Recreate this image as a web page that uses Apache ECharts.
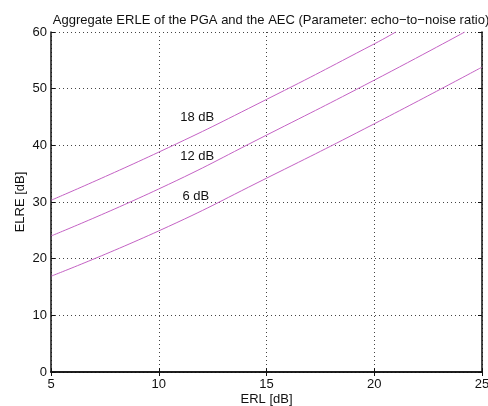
<!DOCTYPE html>
<html>
<head>
<meta charset="utf-8">
<script src="https://cdn.jsdelivr.net/npm/echarts@6/dist/echarts.min.js"></script>
<style>
  html, body { margin: 0; padding: 0; background: #fff; }
  #chart { width: 488px; height: 406px; }
</style>
</head>
<body>
<div id="chart"></div>
<script>
// ERL in dB, and the resulting aggregate ERLE per echo-to-noise ratio
const erl18 = [5, 10, 15, 20, 21.0];
const erle18 = [30.3, 38.8, 48.1, 57.9, 60];
const erl12 = [5, 10, 15, 20, 24.2];
const erle12 = [24.0, 32.3, 41.8, 51.5, 60];
const erl6 = [5, 10, 15, 20, 25];
const erle6 = [16.9, 24.9, 34.2, 43.8, 53.8];

const curveNames = ['18 dB', '12 dB', '6 dB'];
// where each curve's name is written (left end of the text), in axis units
const nameAnchors = [[11.0, 44.9], [11.0, 38.0], [11.1, 30.9]];

const xTicks = [5, 10, 15, 20, 25];
const yTicks = [0, 10, 20, 30, 40, 50, 60];

const FONT = 'Liberation Sans, Arial, Helvetica, sans-serif';
const FS = 13;
const LINE_COLOR = '#c462c4';

function pairs(xs, ys) { return xs.map((x, i) => [x, ys[i]]); }

const chart = echarts.init(document.getElementById('chart'), null, { renderer: 'canvas' });

const boxAxis = {
  axisLine: { show: true, lineStyle: { color: '#111', width: 1.5 } },
  axisTick: { show: true, inside: true, length: 4, lineStyle: { color: '#111', width: 1 } },
  axisLabel: { show: false },
  splitLine: { show: false }
};

const curves = [pairs(erl18, erle18), pairs(erl12, erle12), pairs(erl6, erle6)];

const lineSeries = curves.map((data, i) => ({
  type: 'line',
  name: curveNames[i],
  data: data,
  smooth: 0.5,
  showSymbol: false,
  silent: true,
  lineStyle: { color: LINE_COLOR, width: 1 }
}));

// text labels naming each curve
const nameSeries = {
  type: 'scatter',
  symbolSize: 0,
  silent: true,
  itemStyle: { opacity: 1 },
  data: nameAnchors.map((c, i) => ({ value: c, name: curveNames[i] })),
  label: {
    show: true, position: 'right', distance: 0,
    formatter: p => p.name,
    fontFamily: FONT, fontSize: FS, color: '#111'
  }
};

chart.setOption({
  animation: false,
  backgroundColor: '#fff',
  title: {
    text: 'Aggregate ERLE of the PGA and the AEC (Parameter: echo\u2212to\u2212noise ratio)',
    left: 266, textAlign: 'center', top: 9,
    textStyle: { fontFamily: FONT, fontSize: FS, fontWeight: 'normal', color: '#111' }
  },
  grid: { left: 51, right: 6, top: 32, bottom: 34, containLabel: false, outerBoundsMode: 'none' },
  xAxis: [{
    type: 'value', min: xTicks[0], max: xTicks[xTicks.length - 1], interval: 5,
    name: 'ERL [dB]', nameLocation: 'middle', nameGap: 21, nameMoveOverlap: false,
    nameTextStyle: { fontFamily: FONT, fontSize: FS, color: '#111' },
    axisLine: { show: true, lineStyle: { color: '#111', width: 1.5 } },
    axisTick: { show: true, inside: true, length: 4, lineStyle: { color: '#111' } },
    axisLabel: { fontFamily: FONT, fontSize: FS, color: '#111', margin: 6 },
    splitLine: { show: true, lineStyle: { type: [1, 3], color: '#444', width: 1 } }
  }, Object.assign({ type: 'value', position: 'top', min: 5, max: 25, interval: 5 }, boxAxis)],
  yAxis: [{
    type: 'value', min: yTicks[0], max: yTicks[yTicks.length - 1], interval: 10,
    name: 'ELRE [dB]', nameLocation: 'middle', nameGap: 24, nameRotate: 90, nameMoveOverlap: false,
    nameTextStyle: { fontFamily: FONT, fontSize: FS, color: '#111' },
    axisLine: { show: true, lineStyle: { color: '#111', width: 1.5 } },
    axisTick: { show: true, inside: true, length: 4, lineStyle: { color: '#111' } },
    axisLabel: { fontFamily: FONT, fontSize: FS, color: '#111', margin: 4 },
    splitLine: { show: true, lineStyle: { type: [1, 3], color: '#444', width: 1 } }
  }, Object.assign({ type: 'value', position: 'right', min: 0, max: 60, interval: 10 }, boxAxis)],
  series: lineSeries.concat([nameSeries])
});
</script>
</body>
</html>
